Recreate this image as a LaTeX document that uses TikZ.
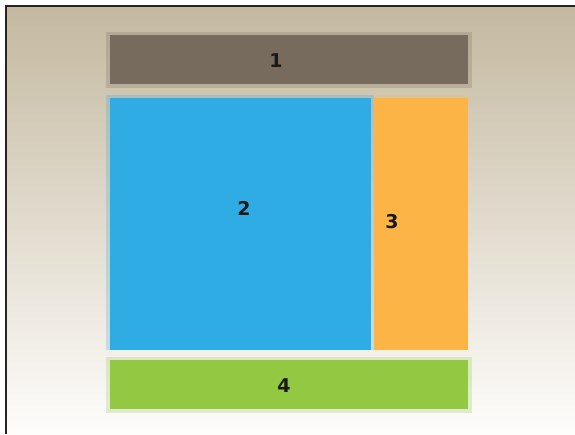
\documentclass[tikz,border=0pt]{standalone}
\usepackage{fontspec}
\setmainfont{DejaVu Sans}
\usetikzlibrary{calc}

\definecolor{bgtop}{RGB}{196,185,160}
\definecolor{bgbot}{RGB}{254,253,251}
\definecolor{headc}{RGB}{119,107,93}
\definecolor{mainc}{RGB}{46,172,227}
\definecolor{sidec}{RGB}{253,180,71}
\definecolor{footc}{RGB}{147,200,67}
\definecolor{framec}{RGB}{38,36,36}

\begin{document}
\begin{tikzpicture}[
  x=1pt,
  y=-1pt,
  font=\fontsize{19}{21}\selectfont\bfseries,
  box/.style={fill=#1,inner sep=0pt,outer sep=0pt,anchor=north west},
  rim/.style={draw=#1,draw opacity=0.25,line width=3.5pt},
  num/.style={text=black!90,inner sep=0pt}
]

\useasboundingbox (0,0) rectangle (575,434);

% Page background and frame
\shade[top color=bgtop,bottom color=bgbot] (7,7) rectangle (575,434);
\draw[framec,line width=2.2pt] (6,434) -- (6,6) -- (575,6);

% Header
\node[box=headc,minimum width=358pt,minimum height=49pt] (head) at (110,35) {};
\draw[rim=headc] ($(head.north west)+(-2,-1.5)$) rectangle ($(head.south east)+(2,2)$);

% Main area and sidebar
\node[box=mainc,minimum width=261pt,minimum height=252pt] (main) at (110,98) {};
\node[box=sidec,minimum width=94pt,minimum height=252pt] (side) at (374,98) {};
\draw[rim=mainc] ($(main.south west)+(-2,0)$) -- ($(main.north west)+(-2,-1.5)$)
  -- ($(main.north east)+(1.5,-1.5)$) -- ($(main.south east)+(1.5,0)$);
\draw[rim=sidec] ($(side.north west)+(0,-1.5)$) -- ($(side.north east)+(0,-1.5)$);

% Footer
\node[box=footc,minimum width=358pt,minimum height=49pt] (foot) at (110,360) {};
\draw[rim=footc] ($(foot.north west)+(-2,-1.5)$) rectangle ($(foot.south east)+(2,2)$);

% Labels
\node[num] (l1) at (276,61) {1};
\node[num] (l2) at (244,208) {2};
\node[num] (l3) at (392,222) {3};
\node[num] (l4) at (284,386) {4};

\end{tikzpicture}
\end{document}
